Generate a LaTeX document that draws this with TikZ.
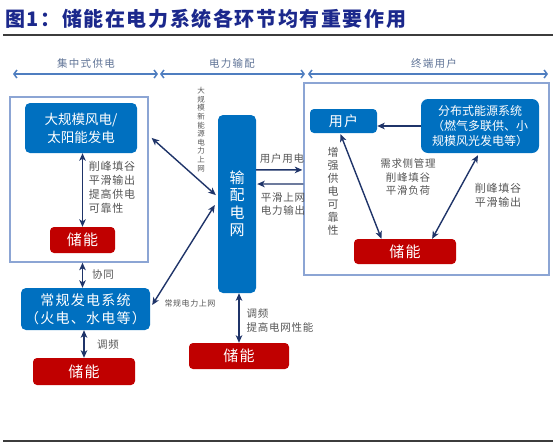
\documentclass[tikz,border=0pt]{standalone}
\usepackage{fontspec}
\setmainfont{Noto Sans CJK SC}
\newfontfamily\titlefont[LetterSpace=8]{Noto Sans CJK SC}
\newfontfamily\hdrfont[LetterSpace=12]{Noto Sans CJK SC}
\newfontfamily\lblfont[LetterSpace=7]{Noto Sans CJK SC}
\newfontfamily\wideboxfont[LetterSpace=9]{Noto Sans CJK SC}
\usetikzlibrary{arrows.meta,calc}
\definecolor{boxblue}{RGB}{0,112,192}
\definecolor{boxred}{RGB}{192,0,0}
\definecolor{navy}{RGB}{31,52,105}
\definecolor{framec}{RGB}{140,165,212}
\definecolor{hdrblue}{RGB}{79,126,192}
\definecolor{hdrtext}{RGB}{95,115,150}
\definecolor{lblgrey}{RGB}{85,85,85}
\definecolor{titleblue}{RGB}{27,40,140}
\definecolor{rulegrey}{RGB}{60,60,60}
\newcommand\myfs[2]{\fontsize{#1}{#2}\selectfont}
\begin{document}
\begin{tikzpicture}[x=1pt,y=-1pt,
  bluebox/.style={fill=boxblue, rounded corners=5pt, text=white, align=center, inner sep=0pt, font=\myfs{13.5}{18}},
  redbox/.style={fill=boxred, rounded corners=4pt, text=white, inner sep=0pt, font=\wideboxfont\myfs{15}{17}},
  framebox/.style={draw=framec, line width=1.3pt, inner sep=0pt},
  arr/.style={draw=navy, line width=1.4pt, {Stealth[length=7.5pt,width=6.5pt,inset=2pt]}-{Stealth[length=7.5pt,width=6.5pt,inset=2pt]}},
  arrone/.style={draw=navy, line width=1.4pt, -{Stealth[length=7.5pt,width=6.5pt,inset=2pt]}},
  hdr/.style={draw=hdrblue, line width=1.5pt, {Straight Barb[length=3pt,width=8pt]}-{Straight Barb[length=3pt,width=8pt]}},
  lbl/.style={text=lblgrey, inner sep=0pt, align=center, font=\lblfont\myfs{10.5}{13.5}},
  hdrlbl/.style={text=hdrtext, inner sep=0pt, font=\hdrfont\myfs{10.5}{12}}
]
\useasboundingbox (0,0) rectangle (553,445);

% title and rules
\node[anchor=west, inner sep=0pt, text=titleblue, font=\titlefont\bfseries\myfs{20}{22}] (title) at (5,18.5) {图1：储能在电力系统各环节均有重要作用};
\draw[rulegrey, line width=2pt] (3,35) -- (553,35);
\draw[rulegrey, line width=2pt] (3,441) -- (553,441);

% header
\node[hdrlbl] (h1) at (86,64) {集中式供电};
\node[hdrlbl] (h2) at (232,64) {电力输配};
\node[hdrlbl] (h3) at (434,64) {终端用户};
\coordinate (ha) at (13,74);
\coordinate (hb) at (158,74);
\coordinate (hc) at (160,74);
\coordinate (hd) at (305,74);
\coordinate (he) at (308,74);
\coordinate (hf) at (548,74);
\draw[hdr] (ha) -- (hb);
\draw[hdr] (hc) -- (hd);
\draw[hdr] (he) -- (hf);

% frames
\node[framebox, minimum width=138pt, minimum height=165pt] (leftframe) at (79,179.5) {};
\node[framebox, minimum width=245pt, minimum height=192pt] (rightframe) at (426.5,179) {};

% left column
\node[bluebox, minimum width=112pt, minimum height=50pt] (bigwind) at (81,128) {大规模风电/\\太阳能发电};
\node[redbox, minimum width=65pt, minimum height=26pt] (store1) at (82.5,240) {储能};
\node[bluebox, font=\wideboxfont\myfs{14}{18}, minimum width=129pt, minimum height=42pt] (conv) at (85.5,309) {常规发电系统\\（火电、水电等）};
\node[redbox, minimum width=102pt, minimum height=27pt] (store2) at (84,371.5) {储能};

% middle
\node[bluebox, font=\myfs{15}{17.5}, minimum width=38pt, minimum height=178pt] (grid) at (237,204) {输\\配\\电\\网};
\node[redbox, minimum width=100pt, minimum height=26pt] (store3) at (239,356) {储能};

% right
\node[bluebox, font=\wideboxfont\myfs{14}{16}, rounded corners=4pt, minimum width=67pt, minimum height=24pt] (user) at (343.5,121) {用户};
\node[bluebox, font=\myfs{12}{15}, rounded corners=7pt, minimum width=118pt, minimum height=54pt] (dist) at (480,126) {分布式能源系统\\（燃气多联供、小\\规模风光发电等）};
\node[redbox, minimum width=102pt, minimum height=25pt] (store4) at (405,251.5) {储能};

% labels
\node[lbl, align=left, font=\lblfont\myfs{11}{14}] (l1) at (112,187) {削峰填谷\\平滑输出\\提高供电\\可靠性};
\node[lbl] (l2) at (103,275) {协同};
\node[lbl] (l3) at (108,345) {调频};
\node[lbl, font=\myfs{7.5}{8.6}] (l4) at (201,129.5) {大\\规\\模\\新\\能\\源\\电\\力\\上\\网};
\node[lbl, font=\lblfont\myfs{8}{10}] (l5) at (190,303) {常规电力上网};
\node[lbl] (l6) at (282,159) {用户用电};
\node[lbl, font=\lblfont\myfs{10.5}{12.5}] (l7) at (283,204) {平滑上网\\电力输出};
\node[lbl, align=left, font=\lblfont\myfs{10.5}{14}] (l8) at (280,320) {调频\\提高电网性能};
\node[lbl, font=\myfs{11}{13}] (l9) at (333,191) {增\\强\\供\\电\\可\\靠\\性};
\node[lbl] (l10) at (408,177) {需求侧管理\\削峰填谷\\平滑负荷};
\node[lbl, font=\lblfont\myfs{11}{14}] (l11) at (498,195) {削峰填谷\\平滑输出};

% connectors
\draw[arr] (bigwind.south -| store1.north) -- (store1.north);
\draw[arr] (leftframe.south -| store1.north) -- (conv.north -| store1.north);
\draw[arr] (conv.south -| store2.north) -- (store2.north);
\draw[arr] ($(leftframe.north east)!0.25!(leftframe.south east)+(3,0)$) -- ($(grid.north west)!0.45!(grid.south west)+(-2,0)$);
\draw[arr] ($(conv.east)+(2,-4)$) -- ($(grid.west)+(-3,1)$);
\draw[arrone] ($(grid.north east)!0.309!(grid.south east)$) -- ($(rightframe.north west)!0.453!(rightframe.south west)+(-1,0)$);
\draw[arrone] ($(rightframe.north west)!0.526!(rightframe.south west)$) -- ($(grid.north east)!0.388!(grid.south east)+(1,0)$);
\draw[arr] (grid.south -| store3.north) -- (store3.north);
\draw[arrone] (dist.west) -- (user.east |- dist.west);
\draw[arr] ($(user.south)+(-3,1)$) -- ($(store4.north west)!0.27!(store4.north east)$);
\draw[arr] ($(dist.south)+(-2,2)$) -- ($(store4.north west)!0.765!(store4.north east)$);
\end{tikzpicture}
\end{document}
